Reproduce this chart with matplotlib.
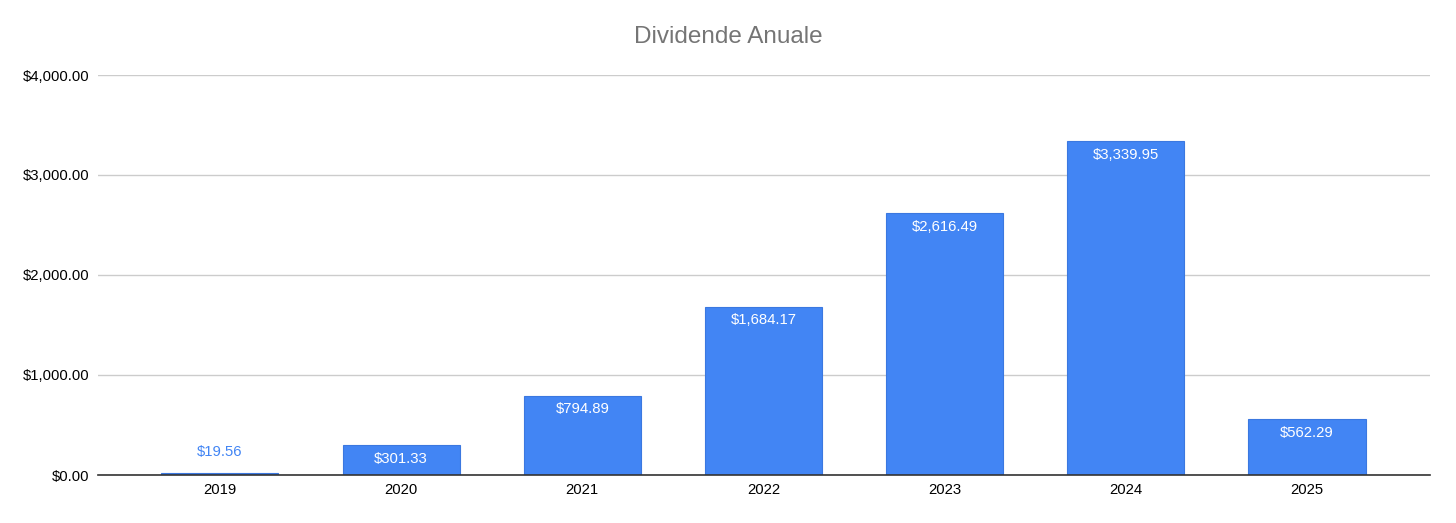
import matplotlib.pyplot as plt
from matplotlib.ticker import FuncFormatter

plt.rcParams['font.family'] = ['Liberation Sans', 'DejaVu Sans']

years = ['2019', '2020', '2021', '2022', '2023', '2024', '2025']
dividends = [19.56, 301.33, 794.89, 1684.17, 2616.49, 3339.95, 562.29]

blue = '#4285F4'

fig = plt.figure(figsize=(14.56, 5.23), dpi=100)
ax = fig.add_axes([98 / 1456, 48 / 523, 1332 / 1456, 400 / 523])

x = range(len(years))
bars = ax.bar(x, dividends, width=0.646, color=blue, edgecolor='#3b78e0', linewidth=0.8, zorder=3)

ax.set_ylim(0, 4000)
ax.set_xlim(-0.673, 6.679)
ax.set_yticks([0, 1000, 2000, 3000, 4000])
ax.yaxis.set_major_formatter(FuncFormatter(lambda v, p: f'${v:,.2f}'))
ax.set_xticks(list(x))
ax.set_xticklabels(years)
ax.tick_params(axis='both', length=0, labelsize=10.7, colors='#000000')
ax.tick_params(axis='x', pad=6)
ax.tick_params(axis='y', pad=6)

ax.grid(axis='y', color='#cccccc', linewidth=1, zorder=0)
for s in ['top', 'right', 'left']:
    ax.spines[s].set_visible(False)
ax.spines['bottom'].set_color('#333333')
ax.spines['bottom'].set_linewidth(1.2)
ax.spines['bottom'].set_zorder(4)

for xi, v in zip(x, dividends):
    label = f'${v:,.2f}'
    if v < 200:
        ax.annotate(label, (xi, v), xytext=(0, 15), textcoords='offset points',
                    ha='center', va='center', color=blue, fontsize=10.7)
    else:
        ax.annotate(label, (xi, v), xytext=(0, -10), textcoords='offset points',
                    ha='center', va='center', color='white', fontsize=10.7, zorder=5)

fig.text(0.5, 0.929, 'Dividende Anuale', ha='center', va='center', fontsize=17.5, color='#757575')

fig.savefig('out.png', dpi=100)
